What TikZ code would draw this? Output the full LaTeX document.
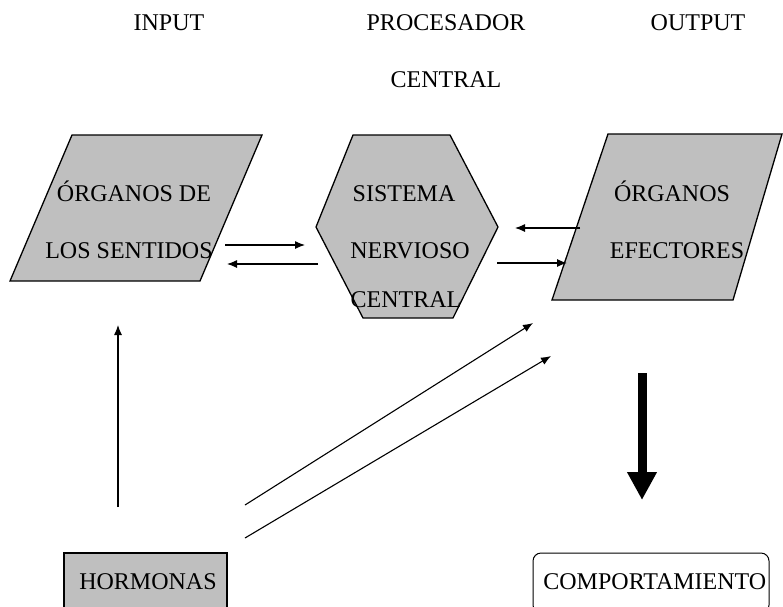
\documentclass[tikz,border=0pt]{standalone}
\usepackage{fontspec}
\setmainfont{Liberation Serif}
\usepackage{tikz}
\usetikzlibrary{bayesnet, calc, arrows.meta, positioning}

\tikzset{
  bloque/.style={draw, line width=1.3pt, fill=black!25},
  texto/.style={font=\fontsize{24}{28}\selectfont, inner sep=0pt, text height=17pt, text depth=5pt},
  flecha/.style={line width=1.1pt, -{Latex[length=10pt, width=8pt]}},
  gruesa/.style={line width=9pt, -{Triangle[length=28pt, width=28pt]}}
}

\begin{document}
\begin{tikzpicture}[x=1pt, y=-1pt, thick]
            \useasboundingbox (0,0) rectangle (783,606);
            \clip (0,0) rectangle (783,606);

            % cabeceras
            \node[texto] (input) at (169,24) {INPUT};
            \node[texto] (proc) at (446,24) {PROCESADOR};
            \node[texto, below=35pt of proc] (proc2) {CENTRAL};
            \node[texto] (output) at (698,24) {OUTPUT};

            % bloques
            \draw[bloque] (72,135) -- (262,135) -- (200,281) -- (10,281) -- cycle;
            \draw[bloque] (353,135) -- (450,135) -- (498,227) -- (453,318) -- (363,318) -- (316,227) -- cycle;
            \draw[bloque] (608,134) -- (782,134) -- (733,300) -- (552,300) -- cycle;

            \node[texto] (sen1) at (134,195) {ÓRGANOS DE};
            \node[texto, below=35pt of sen1, xshift=-5pt] (sen2) {LOS SENTIDOS};
            \node[texto] (snc1) at (404,195) {SISTEMA};
            \node[texto, below=35pt of snc1, xshift=6pt] (snc2) {NERVIOSO};
            \node[texto, below=26pt of snc2, xshift=-4pt] (snc3) {CENTRAL};
            \node[texto] (efe1) at (672,195) {ÓRGANOS};
            \node[texto, below=35pt of efe1, xshift=5pt] (efe2) {EFECTORES};

            \node[bloque, minimum width=163pt, minimum height=60pt, inner sep=0pt] (horm) at (145.5,583) {};
            \node[texto] (hormt) at (148,583) {HORMONAS};
            \node[draw, line width=1pt, rounded corners=8pt, minimum width=236pt, minimum height=60pt] (comp) at (651,583) {};
            \node[texto, anchor=west] (compt) at (543,583) {COMPORTAMIENTO};

            % extremos de las flechas
            \coordinate (s1) at (225,245); \coordinate (s2) at (305,245);
            \coordinate (s3) at (318,264); \coordinate (s4) at (227,264);
            \coordinate (e1) at (580,228); \coordinate (e2) at (515,228);
            \coordinate (e3) at (497,263); \coordinate (e4) at (567,263);
            \coordinate (h1) at (118,507); \coordinate (h2) at (118,325);
            \coordinate (h3) at (245,505); \coordinate (h4) at (533,323);
            \coordinate (h5) at (245,538); \coordinate (h6) at (551,356);
            \coordinate (c1) at (642,373); \coordinate (c2) at (642,500);

            \edge[flecha]{s1}{s2}
            \edge[flecha]{s3}{s4}
            \edge[flecha]{e1}{e2}
            \edge[flecha]{e3}{e4}
            \edge[flecha]{h1}{h2}
            \edge[flecha]{h3}{h4}
            \edge[flecha]{h5}{h6}
            \edge[gruesa]{c1}{c2}
        \end{tikzpicture}
\end{document}
